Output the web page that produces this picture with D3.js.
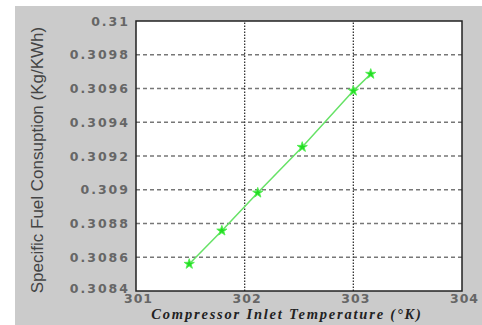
<!DOCTYPE html>
<html>
<head>
<meta charset="utf-8">
<script src="https://cdn.jsdelivr.net/npm/d3@7"></script>
<style>
  body { margin: 0; background: #fff; }
  svg { display: block; }
  .tick text { font-family: "DejaVu Sans", Verdana, sans-serif; font-weight: bold; fill: #666; letter-spacing: 2px; }
</style>
</head>
<body>
<div id="chart"></div>
<script>
var temps = [301.49, 301.79, 302.12, 302.53, 303.0, 303.16];
var sfc = [0.30856, 0.308757, 0.308982, 0.309253, 0.309586, 0.309686];
var xTicks = [301, 302, 303, 304];
var yTicks = [0.3084, 0.3086, 0.3088, 0.309, 0.3092, 0.3094, 0.3096, 0.3098, 0.31];

var width = 482, height = 325;
var margin = { left: 136, top: 21, right: 20, bottom: 35 };

var svg = d3.select('#chart').append('svg')
  .attr('width', width)
  .attr('height', height);

// grey figure background
svg.append('rect')
  .attr('x', 15).attr('y', 6)
  .attr('width', width - 15).attr('height', height - 6)
  .attr('fill', '#cbcbcb');

var x = d3.scaleLinear().domain([301, 304]).range([margin.left, width - margin.right]);
var y = d3.scaleLinear().domain([0.3084, 0.31]).range([height - margin.bottom + 1, margin.top]);

svg.append('rect')
  .attr('x', x(301)).attr('y', y(0.31))
  .attr('width', x(304) - x(301)).attr('height', y(0.3084) - y(0.31))
  .attr('fill', '#fff');

// grid
var grid = svg.append('g');
grid.selectAll('line.h').data(yTicks.slice(1, -1))
  .enter().append('line')
  .attr('x1', x(301)).attr('x2', x(304))
  .attr('y1', function(d) { return y(d); })
  .attr('y2', function(d) { return y(d); })
  .attr('stroke', '#777').attr('stroke-width', 1.3)
  .attr('stroke-dasharray', '4,3');
grid.selectAll('line.v').data(xTicks.slice(1, -1))
  .enter().append('line')
  .attr('y1', y(0.3084)).attr('y2', y(0.31))
  .attr('x1', function(d) { return x(d); })
  .attr('x2', function(d) { return x(d); })
  .attr('stroke', '#333').attr('stroke-width', 1.3)
  .attr('stroke-dasharray', '1.5,1.5');

// axes
var xAxis = d3.axisBottom(x).tickValues(xTicks).tickFormat(d3.format('d')).tickSize(0).tickPadding(3);
var yAxis = d3.axisLeft(y).tickValues(yTicks).tickFormat(function(d) { return String(+d.toFixed(4)); }).tickSize(0).tickPadding(6);

svg.append('g')
  .attr('transform', 'translate(2,' + y(0.3084) + ')')
  .call(xAxis)
  .call(function(g) { g.select('.domain').remove(); })
  .selectAll('text').style('font-size', '12.5px').style('letter-spacing', '1px');

svg.append('g')
  .attr('transform', 'translate(' + x(301) + ',0)')
  .call(yAxis)
  .call(function(g) { g.select('.domain').remove(); })
  .selectAll('text').style('font-size', '12.5px')
  .attr('y', function(d) { return d === 0.3084 ? -3 : 0; });

// box
svg.append('rect')
  .attr('x', x(301)).attr('y', y(0.31))
  .attr('width', x(304) - x(301)).attr('height', y(0.3084) - y(0.31))
  .attr('fill', 'none').attr('stroke', '#222').attr('stroke-width', 1.5);

// series
var pts = temps.map(function(t, i) { return [t, sfc[i]]; });
var line = d3.line().x(function(d) { return x(d[0]); }).y(function(d) { return y(d[1]); });

svg.append('path')
  .datum(pts)
  .attr('d', line)
  .attr('fill', 'none')
  .attr('stroke', '#66e266')
  .attr('stroke-width', 1.5);

svg.selectAll('path.pt').data(pts)
  .enter().append('path')
  .attr('class', 'pt')
  .attr('transform', function(d) { return 'translate(' + x(d[0]) + ',' + y(d[1]) + ')'; })
  .attr('d', d3.symbol().type(d3.symbolStar).size(32))
  .attr('fill', '#22dd22')
  .attr('stroke', '#55ee55')
  .attr('stroke-width', 1);

// labels
svg.append('text')
  .attr('transform', 'translate(43,' + ((y(0.31) + y(0.3084)) / 2 + 4) + ') rotate(-90)')
  .attr('text-anchor', 'middle')
  .style('font-family', '"Liberation Sans", Arial, sans-serif')
  .style('font-size', '17px')
  .style('fill', '#444')
  .text('Specific Fuel Consuption (Kg/KWh)');

svg.append('text')
  .attr('x', 287)
  .attr('y', 319)
  .attr('text-anchor', 'middle')
  .style('font-family', '"Liberation Serif", "Times New Roman", serif')
  .style('font-size', '14.5px')
  .style('font-weight', 'bold')
  .style('font-style', 'italic')
  .style('letter-spacing', '1.8px')
  .style('fill', '#222')
  .text('Compressor Inlet Temperature (\u00B0K)');
</script>
</body>
</html>
